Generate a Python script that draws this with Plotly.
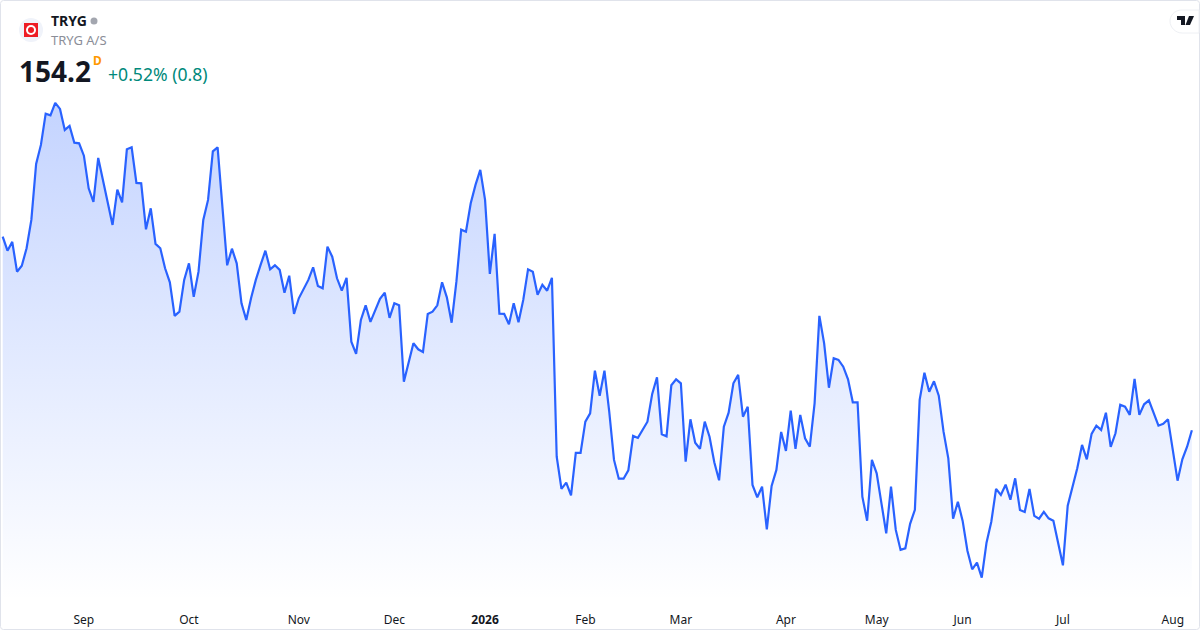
import plotly.graph_objects as go

close = [
    163.88, 163.18, 163.62, 162.13, 162.43, 163.30, 164.72, 167.52, 168.47, 170.03,
    169.95, 170.57, 170.27, 169.22, 169.42, 168.58, 168.55, 167.93, 166.30, 165.62,
    167.82, 166.72, 165.63, 164.47, 166.23, 165.60, 168.25, 168.35, 166.57, 166.55,
    164.25, 165.30, 163.52, 163.30, 162.30, 161.60, 159.92, 160.13, 161.72, 162.55,
    160.87, 162.13, 164.72, 165.72, 168.15, 168.35, 165.38, 162.45, 163.28, 162.55,
    160.55, 159.72, 160.80, 161.72, 162.47, 163.18, 162.25, 162.45, 162.22, 161.08,
    161.93, 160.02, 160.80,
    161.25, 161.72, 162.35, 161.42, 161.30, 163.38, 162.88, 161.80, 161.18, 161.82,
    158.63, 158.02, 159.72, 160.45, 159.62, 160.18, 160.77, 161.08, 159.82, 160.55,
    160.45, 156.63, 157.58, 158.55, 158.25, 158.12, 160.02, 160.13, 160.45, 161.60,
    160.85, 159.58, 161.63, 164.23, 164.13, 165.55, 166.47, 167.22, 165.72, 162.02,
    164.02, 160.03, 160.02, 159.50, 160.55, 159.60, 160.72, 162.25, 162.13, 160.98,
    161.48, 161.18, 161.82, 152.88, 151.27, 151.58, 150.95, 153.07, 153.07, 154.63,
    155.05, 157.18, 155.92,
    157.18, 155.13, 152.72, 151.78, 151.78, 152.20, 153.92, 153.82, 154.22, 154.63,
    156.02, 156.85, 154.00, 153.90, 156.45, 156.75, 156.55, 152.63, 154.75, 153.58,
    153.28, 154.63, 153.88, 152.60, 151.70, 154.38, 155.08, 156.55, 156.97, 154.88,
    155.38, 151.47, 150.85, 151.38, 149.25, 151.42, 152.22, 154.12, 153.17, 155.18,
    153.27, 154.97, 153.80, 153.38, 155.55, 159.92, 158.55, 156.33, 157.80, 157.72,
    157.38, 156.75, 155.60, 155.60, 150.88, 149.68, 152.72, 152.05,
    150.55, 149.05, 151.38, 149.22, 148.22, 148.30, 149.52, 150.22, 155.72, 157.08,
    156.13, 156.65, 155.93, 154.13, 152.80, 149.78, 150.63, 149.67, 148.18, 147.25,
    147.58, 146.83, 148.58, 149.63, 151.27, 150.97, 151.48, 150.73, 151.80, 150.22,
    150.12, 151.27, 149.92, 149.78, 150.12, 149.80, 149.68, 148.63, 147.45, 150.43,
    151.30, 152.30, 153.47, 152.75, 154.02, 154.43, 154.22, 155.08, 153.37, 154.05,
    155.48, 155.38, 154.97, 156.77, 154.97, 155.50, 155.70, 155.05, 154.43, 154.52,
    154.75, 153.22, 151.68, 152.75, 153.38, 154.20,
]
bar_index = list(range(len(close)))

tick_index = [17, 39, 62, 82, 101, 122, 142, 164, 183, 201, 222, 245]
tick_labels = ["Sep", "Oct", "Nov", "Dec", "<b>2026</b>", "Feb", "Mar", "Apr", "May", "Jun", "Jul", "Aug"]

W, H = 1200, 630
FONT = "Noto Sans"


def px(x):
    return x / W


def py(y):
    return 1 - y / H


fig = go.Figure()
fig.add_trace(go.Scatter(
    x=bar_index, y=close, mode="lines",
    line=dict(color="#2962ff", width=2.2),
    fill="tozeroy",
    fillgradient=dict(
        type="vertical", start=171, stop=145.7,
        colorscale=[[0, "rgba(41,98,255,0.28)"], [1, "rgba(41,98,255,0.0)"]],
    ),
    hoverinfo="skip",
))

texts = [
    (50, 21, "<b>TRYG</b>", 14, "#131722"),
    (50, 40, "TRYG A/S", 13, "#8b8e98"),
    (17.5, 71, "<b>154.2</b>", 28, "#131722"),
    (91.5, 61, "<b>D</b>", 12, "#ff9800"),
    (107, 74, "+0.52% (0.8)", 17.6, "#00897b"),
]
annotations = [
    dict(x=px(x), y=py(y), xref="paper", yref="paper", text=t, showarrow=False,
         xanchor="left", yanchor="middle", borderpad=0,
         font=dict(family=FONT, size=s, color=c))
    for x, y, t, s, c in texts
]

shapes = [
    # card border
    dict(type="path", xref="paper", yref="paper", layer="above",
         path=f"M {px(3.5)} {py(0.5)} H {px(1196.5)} Q {px(1199.5)} {py(0.5)} {px(1199.5)} {py(3.5)} "
              f"V {py(626.5)} Q {px(1199.5)} {py(629.5)} {px(1196.5)} {py(629.5)} H {px(3.5)} "
              f"Q {px(0.5)} {py(629.5)} {px(0.5)} {py(626.5)} V {py(3.5)} Q {px(0.5)} {py(0.5)} {px(3.5)} {py(0.5)} Z",
         line=dict(color="#e0e3eb", width=1)),
    # market status dot
    dict(type="circle", xref="paper", yref="paper", x0=px(90.5), x1=px(97.5), y0=py(24.5), y1=py(17.5),
         fillcolor="#a3a6af", line_width=0),
    # symbol logo
    dict(type="circle", xref="paper", yref="paper", x0=px(19), x1=px(43), y0=py(42), y1=py(18),
         fillcolor="#f0f3fa", line_width=0),
    dict(type="rect", xref="paper", yref="paper", x0=px(24), x1=px(38), y0=py(37), y1=py(23),
         fillcolor="#ee1c25", line_width=0),
    dict(type="circle", xref="paper", yref="paper", x0=px(26), x1=px(36), y0=py(35), y1=py(25),
         fillcolor="#ffffff", line_width=0),
    dict(type="circle", xref="paper", yref="paper", x0=px(28), x1=px(34), y0=py(33), y1=py(27),
         fillcolor="#ee1c25", line_width=0),
    # TradingView badge
    dict(type="path", xref="paper", yref="paper",
         path=f"M {px(1199)} {py(10)} H {px(1182)} C {px(1174)} {py(10)} {px(1170)} {py(16)} {px(1170)} {py(21)} "
              f"C {px(1170)} {py(28)} {px(1176)} {py(33)} {px(1182)} {py(33)} H {px(1199)} Z",
         fillcolor="#ffffff", line=dict(color="#eef0f4", width=1)),
    dict(type="path", xref="paper", yref="paper",
         path=f"M {px(1177)} {py(16)} H {px(1185)} V {py(25)} H {px(1181)} V {py(20)} H {px(1177)} Z",
         fillcolor="#131722", line_width=0),
    dict(type="path", xref="paper", yref="paper",
         path=f"M {px(1189)} {py(16)} H {px(1194)} L {px(1190)} {py(25)} H {px(1185.5)} Z",
         fillcolor="#131722", line_width=0),
]

fig.update_layout(
    width=W, height=H,
    margin=dict(l=0, r=0, t=0, b=0),
    paper_bgcolor="#ffffff", plot_bgcolor="#ffffff",
    showlegend=False,
    annotations=annotations,
    shapes=shapes,
    xaxis=dict(
        range=[-0.565, 250.7], showgrid=False, zeroline=False, showline=False,
        tickmode="array", tickvals=tick_index, ticktext=tick_labels,
        ticks="outside", ticklen=9, tickcolor="rgba(0,0,0,0)",
        tickfont=dict(family=FONT, size=12, color="#131722"),
    ),
    yaxis=dict(
        domain=[30 / H, 1], range=[145.715, 175.715], visible=False,
    ),
)
fig.write_html("out.html", config=dict(displayModeBar=False),
               post_script="document.body.style.margin='0';")
